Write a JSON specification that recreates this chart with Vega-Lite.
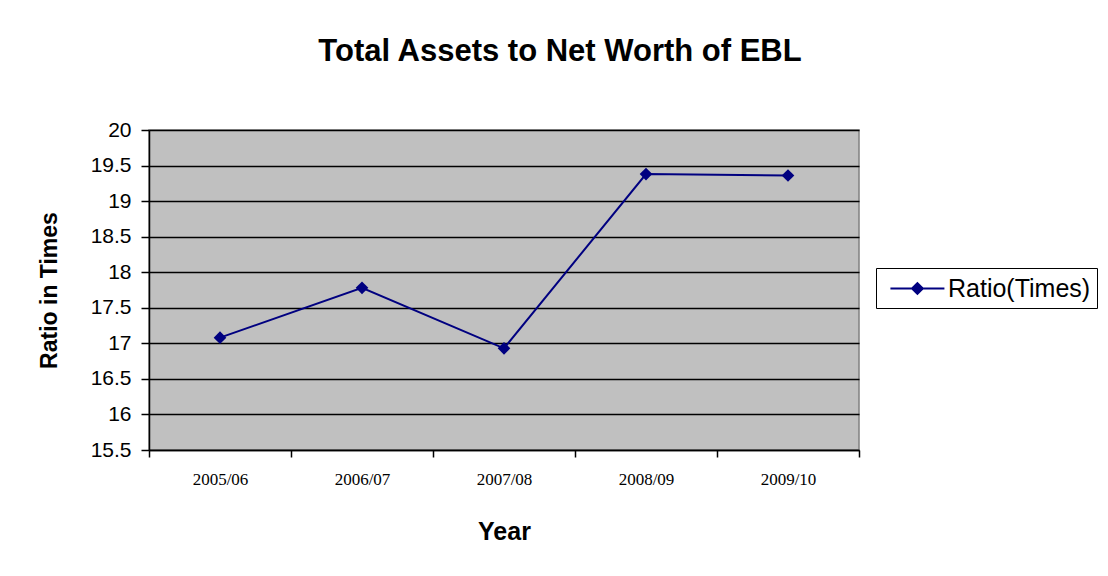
{
  "$schema": "https://vega.github.io/schema/vega-lite/v6.json",
  "width": 710,
  "height": 320,
  "autosize": {"type": "none"},
  "padding": {"left": 149, "top": 130, "right": 249, "bottom": 126},
  "background": "white",
  "title": {
    "text": "Total Assets to Net Worth of EBL",
    "font": "Liberation Sans",
    "fontSize": 31,
    "fontWeight": "bold",
    "color": "black",
    "anchor": "middle",
    "frame": "group",
    "dx": 56,
    "offset": 51
  },
  "data": {
    "values": [
      {"year": "2005/06", "ratio": 17.08, "series": "Ratio(Times)"},
      {"year": "2006/07", "ratio": 17.78, "series": "Ratio(Times)"},
      {"year": "2007/08", "ratio": 16.93, "series": "Ratio(Times)"},
      {"year": "2008/09", "ratio": 19.38, "series": "Ratio(Times)"},
      {"year": "2009/10", "ratio": 19.36, "series": "Ratio(Times)"}
    ]
  },
  "config": {
    "view": {"fill": "#C0C0C0", "stroke": "#808080", "strokeWidth": 1.5}
  },
  "mark": {
    "type": "line",
    "color": "#000080",
    "strokeWidth": 2,
    "point": {"shape": "diamond", "size": 160, "filled": true, "color": "#000080"}
  },
  "encoding": {
    "x": {
      "field": "year",
      "type": "ordinal",
      "scale": {"paddingInner": 0, "paddingOuter": 0},
      "axis": {
        "title": "Year",
        "titleFont": "Liberation Sans",
        "titleFontSize": 25,
        "titleFontWeight": "bold",
        "titleColor": "black",
        "titlePadding": 32,
        "labelAngle": 0,
        "labelFont": "Liberation Serif",
        "labelFontSize": 17,
        "labelColor": "black",
        "labelPadding": 14,
        "domainColor": "black",
        "domainWidth": 1.5,
        "tickColor": "black",
        "tickWidth": 1.5,
        "tickSize": 7,
        "tickBand": "extent",
        "grid": false
      }
    },
    "y": {
      "field": "ratio",
      "type": "quantitative",
      "scale": {"domain": [15.5, 20], "nice": false, "zero": false},
      "axis": {
        "title": "Ratio in Times",
        "titleFont": "Liberation Sans",
        "titleFontSize": 23,
        "titleFontWeight": "bold",
        "titleColor": "black",
        "titlePadding": 29,
        "values": [15.5, 16, 16.5, 17, 17.5, 18, 18.5, 19, 19.5, 20],
        "format": "~g",
        "labelFont": "Liberation Sans",
        "labelFontSize": 21,
        "labelColor": "black",
        "labelPadding": 10,
        "labelFlush": false,
        "labelOverlap": false,
        "domainColor": "black",
        "domainWidth": 1.5,
        "tickColor": "black",
        "tickWidth": 1.5,
        "tickSize": 8,
        "grid": true,
        "gridColor": "black",
        "gridWidth": 1.5
      }
    },
    "color": {
      "field": "series",
      "type": "nominal",
      "scale": {"range": ["#000080"]},
      "legend": {
        "title": null,
        "orient": "none",
        "legendX": 727,
        "legendY": 138,
        "strokeColor": "black",
        "padding": 6,
        "labelFont": "Liberation Sans",
        "labelFontSize": 25,
        "labelColor": "black",
        "labelOffset": 37,
        "symbolType": "M-0.45,0L3.55,0M1.15,0L1.55,-0.4L1.95,0L1.55,0.4Z",
        "symbolSize": 729,
        "symbolStrokeWidth": 2,
        "symbolFillColor": "#000080",
        "symbolStrokeColor": "#000080"
      }
    }
  }
}
